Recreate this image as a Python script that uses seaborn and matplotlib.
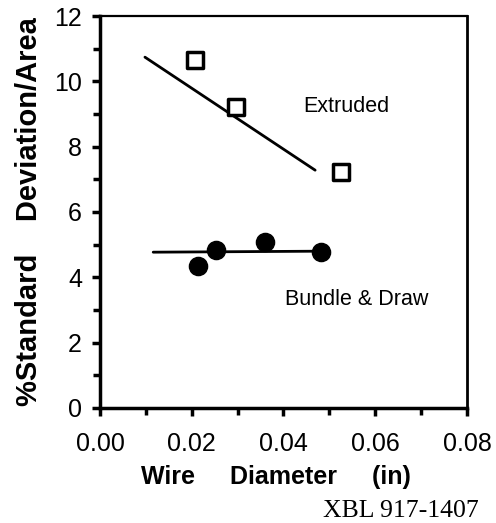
import numpy as np
import pandas as pd
import matplotlib
matplotlib.use("Agg")
import matplotlib.pyplot as plt
import seaborn as sns

# Extruded: open squares and their fit line
ext_x = [0.0207, 0.0296, 0.0525]
ext_y = [10.65, 9.21, 7.22]
ext_fit_x = [0.0098, 0.0469]
ext_fit_y = [10.74, 7.28]

# Bundle & Draw: filled circles and their fit line
bd_x = [0.0214, 0.0253, 0.0360, 0.0482]
bd_y = [4.35, 4.84, 5.08, 4.78]
bd_fit_x = [0.0116, 0.0475]
bd_fit_y = [4.77, 4.80]

x_ticks = [0.00, 0.02, 0.04, 0.06, 0.08]
y_ticks = [0, 2, 4, 6, 8, 10, 12]

sns.set_style("ticks")
plt.rcParams['font.family'] = ['Liberation Sans', 'DejaVu Sans']
plt.rcParams['text.color'] = 'black'
plt.rcParams['axes.labelcolor'] = 'black'

fig = plt.figure(figsize=(4.96, 5.23), dpi=100)
ax = fig.add_axes([0.2016, 0.2199, 0.7399, 0.7495])

ext = pd.DataFrame({'x': ext_x, 'y': ext_y})
bd = pd.DataFrame({'x': bd_x, 'y': bd_y})

sns.lineplot(x=ext_fit_x, y=ext_fit_y, color='black', linewidth=2, ax=ax)
sns.lineplot(x=bd_fit_x, y=bd_fit_y, color='black', linewidth=2, ax=ax)
sns.scatterplot(data=ext, x='x', y='y', marker='s', s=130, facecolor='white',
                edgecolor='black', linewidth=2.5, ax=ax, zorder=3)
sns.scatterplot(data=bd, x='x', y='y', marker='o', s=170, color='black',
                edgecolor='black', ax=ax, zorder=3)

ax.set_xlim(0, 0.08)
ax.set_ylim(0, 12)
ax.set_xticks(x_ticks)
ax.set_xticklabels([f"{v:.2f}" for v in x_ticks])
ax.set_yticks(y_ticks)
ax.set_xticks(np.arange(0.01, 0.08, 0.02), minor=True)
ax.set_yticks(np.arange(1, 12, 2), minor=True)
ax.tick_params(which='major', length=6, width=2.5, labelsize=18, color='black',
               labelcolor='black')
ax.tick_params(axis='x', which='major', pad=11)
ax.tick_params(axis='y', which='major', pad=7)
ax.tick_params(which='minor', length=5, width=2.5, color='black')

for side in ['left', 'bottom', 'right', 'top']:
    ax.spines[side].set_visible(True)
    ax.spines[side].set_color('black')
ax.spines['left'].set_linewidth(2.5)
ax.spines['bottom'].set_linewidth(2.5)
ax.spines['right'].set_linewidth(2)
ax.spines['top'].set_linewidth(1.6)

ax.set_xlabel('Wire     Diameter     (in)', fontsize=18, fontweight='bold', labelpad=7)
ax.xaxis.label.set_x(0.48)
ax.set_ylabel('%Standard    Deviation/Area', fontsize=21, fontweight='bold', labelpad=8)

ax.text(0.0443, 9.06, 'Extruded', fontsize=15.5, va='baseline')
ax.text(0.0403, 3.15, 'Bundle & Draw', fontsize=15.5, va='baseline')
fig.text(0.651, 0.002, 'XBL 917-1407', fontsize=18.5, family='Liberation Serif',
         va='bottom')

fig.savefig('out.png', dpi=100)
